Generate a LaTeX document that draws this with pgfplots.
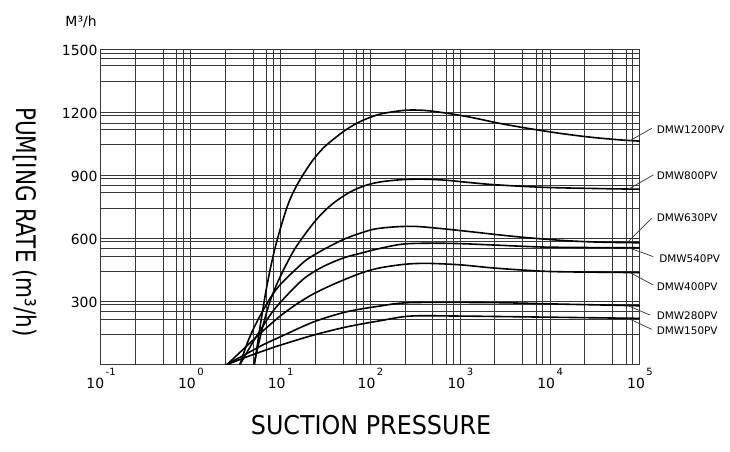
\documentclass[border=0pt]{standalone}
\usepackage{pgfplots}
\pgfplotsset{compat=1.18}
\usepackage{fontspec}
\setmainfont{DejaVu Sans}
\newfontfamily\condA{DejaVu Sans}[FakeStretch=0.92]
\newfontfamily\condB{DejaVu Sans}[FakeStretch=0.8]
\newcommand{\ex}[1]{10\hspace{1.5bp}\raisebox{13bp}{\fontsize{10}{10}\selectfont #1}}
\begin{document}
\begin{tikzpicture}
\useasboundingbox (0,0) rectangle (730bp,452bp);
\begin{axis}[
  at={(101bp,87bp)}, anchor=south west, scale only axis,
  width=539bp, height=315bp,
  xmode=log, log basis x=10,
  xmin=0.1, xmax=100000, ymin=0, ymax=1500,
  xtick={0.1,1,10,100,1000,10000,100000},
  xticklabels={\ex{-1},\ex{0},\ex{1},\ex{2},\ex{3},\ex{4},\ex{5}},
  minor xtick={0.243,0.495,0.70,0.83,2.43,4.95,7.0,8.3,24.3,49.5,70,83,243,495,700,830,2430,4950,7000,8300,24300,49500,70000,83000},
  ytick={300,600,900,1200,1500},
  yticklabels={300,600,900,1200,1500},
  minor ytick={143,219,254,289,444,519,556,587,746,820,857,886,1048,1122,1152,1187,1349,1425,1460,1483},
  grid=both,
  major grid style={black!78, line width=1bp},
  minor grid style={black!78, line width=1bp},
  axis line style={black!78, line width=1bp},
  major tick length=0pt, minor tick length=0pt,
  tick label style={font=\fontsize{14}{16}\selectfont},
  clip mode=individual,
  curve/.style={black, solid, line width=1.6bp, smooth, mark=none},
]
% DMW1200PV
\addplot[curve] coordinates {(5.1,0)(5.99,200)(6.98,370)(8.15,510)(9.48,620)(11.96,760)(15.1,855)(21.5,960)(30.1,1035)(50.1,1112)(77.4,1160)(129,1195)(245,1213)(408,1212)(681,1200)(1292,1180)(2783,1150)(5995,1125)(12915,1103)(27826,1085)(59948,1072)(100000,1066)};
% DMW800PV
\addplot[curve] coordinates {(5.01,0)(6.47,200)(7.94,325)(10,425)(14.0,545)(20.0,640)(27.8,715)(39.8,775)(60,825)(88,855)(129,872)(215,882)(359,885)(681,880)(2154,860)(10000,845)(100000,837)};
% DMW630PV
\addplot[curve] coordinates {(3.5,0)(4.3,110)(5.5,210)(7.7,320)(10,385)(15.1,460)(20,505)(30.1,550)(50.1,598)(77.4,628)(113,648)(190,658)(316,660)(599,650)(1292,635)(2783,619)(5995,605)(15000,592)(35938,585)(100000,582)};
% DMW540PV
\addplot[curve] coordinates {(3.5,0)(5.01,115)(7.7,240)(10,300)(15.1,380)(20,425)(30.1,470)(50.1,510)(77.4,532)(108,548)(167,566)(245,577)(464,580)(1000,578)(2783,570)(10000,561)(100000,558)};
% DMW400PV
\addplot[curve] coordinates {(2.5,0)(4.3,95)(6.47,165)(10,235)(15.3,292)(23,338)(35.9,378)(55,412)(84,442)(129,463)(245,480)(429,484)(1000,477)(2330,462)(5995,450)(12915,444)(100000,440)};
% DMW280PV
\addplot[curve] coordinates {(2.45,0)(4.27,56)(6.5,98)(10,135)(23.5,206)(55,254)(129,281)(278,297)(2344,297)(12900,290)(100000,282)};
% DMW150PV
\addplot[curve] coordinates {(2.45,0)(4.27,40)(6.5,68)(10,95)(23.5,143)(55,182)(129,211)(278,233)(1000,233)(12900,227)(100000,222)};

% leader lines
\draw[black!80, line width=0.7bp] (axis cs:77400,1068) -- (axis cs:135000,1127);
\draw[black!80, line width=0.7bp] (axis cs:74000,837) -- (axis cs:140600,905);
\draw[black!80, line width=0.7bp] (axis cs:74000,587) -- (axis cs:135000,699);
\draw[black!80, line width=0.7bp] (axis cs:74000,559) -- (axis cs:140600,516);
\draw[black!80, line width=0.7bp] (axis cs:77400,440) -- (axis cs:140600,381);
\draw[black!80, line width=0.7bp] (axis cs:74000,282) -- (axis cs:129000,238);
\draw[black!80, line width=0.7bp] (axis cs:74000,222) -- (axis cs:135000,170);

\begin{scope}[every node/.style={anchor=west, inner sep=0pt, font=\fontsize{10.5}{12}\selectfont}]
\node at (axis cs:153000,1122) {DMW1200PV};
\node at (axis cs:153000,900) {DMW800PV};
\node at (axis cs:153000,703) {DMW630PV};
\node at (axis cs:163000,508) {DMW540PV};
\node at (axis cs:153000,373) {DMW400PV};
\node at (axis cs:153000,233) {DMW280PV};
\node at (axis cs:153000,162) {DMW150PV};
\end{scope}

\node[font=\fontsize{14}{16}\selectfont] at (rel axis cs:-0.037,1.089) {M³/h};
\node[font=\condB\fontsize{27}{30}\selectfont, rotate=-90] at (rel axis cs:-0.141,0.454) {PUM[ING RATE (m³/h)};
\node[font=\condA\fontsize{26}{30}\selectfont] at (rel axis cs:0.501,-0.19) {SUCTION PRESSURE};
\end{axis}
\end{tikzpicture}
\end{document}
